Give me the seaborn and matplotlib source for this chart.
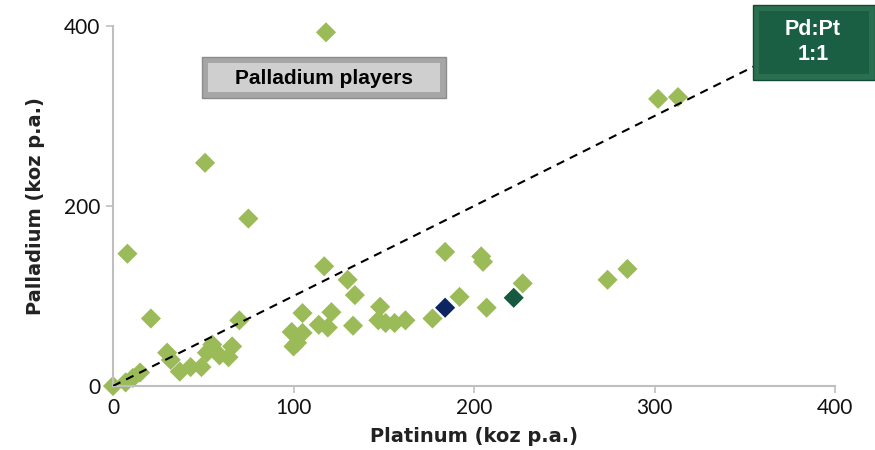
import matplotlib
matplotlib.use('Agg')
import matplotlib.pyplot as plt
from matplotlib.patches import Rectangle
import seaborn as sns
import pandas as pd

# Platinum vs palladium output (koz p.a.)
platinum = [0, 7, 11, 15, 8, 21, 30, 32, 37, 43, 49, 52, 55, 59, 64, 66, 70, 75, 51, 118,
            99, 100, 102, 105, 105, 114, 119, 121, 117, 130, 134, 133, 148, 147, 151, 156,
            162, 177, 184, 192, 204, 205, 207, 227, 274, 285, 302, 313, 184, 222]
palladium = [0, 4, 9, 15, 147, 75, 37, 29, 16, 21, 21, 37, 46, 34, 32, 44, 73, 186, 248, 393,
             60, 44, 48, 59, 81, 68, 65, 82, 133, 118, 101, 67, 88, 73, 70, 70,
             73, 75, 149, 99, 144, 138, 87, 114, 118, 130, 319, 321, 87, 98]
group = ['other'] * 48 + ['navy', 'green']
group_colors = {'other': '#9BBB59', 'navy': '#0D2463', 'green': '#17593F'}

ticks = [0, 100, 200, 300, 400]
yticks = [0, 200, 400]

df = pd.DataFrame({'platinum': platinum, 'palladium': palladium, 'group': group})

sns.set_style('white')
plt.rcParams['font.family'] = ['Lato', 'DejaVu Sans']

fig = plt.figure(figsize=(8.75, 4.5), dpi=100)
ax = fig.add_axes([113 / 875, 64 / 450, 722 / 875, 360 / 450])

# 1:1 line
ax.plot([0, 400], [0, 400], ls=(0, (4, 3)), color='black', lw=1.5, zorder=3)

sns.scatterplot(data=df, x='platinum', y='palladium', hue='group', palette=group_colors,
                marker='D', s=105, linewidth=0, legend=False, ax=ax, zorder=2, clip_on=False)

ax.set_xlim(0, 400)
ax.set_ylim(0, 400)
ax.set_xticks(ticks)
ax.set_yticks(yticks)
ax.tick_params(axis='both', direction='out', length=5, width=1.2, color='#BFBFBF',
               labelsize=15, labelcolor='#111111', pad=4, bottom=True, left=True)
for side in ['top', 'right']:
    ax.spines[side].set_visible(False)
for side in ['left', 'bottom']:
    ax.spines[side].set_color('#BFBFBF')
    ax.spines[side].set_linewidth(1.5)

ax.set_xlabel('Platinum (koz p.a.)', fontsize=14, fontweight='bold', family='DejaVu Sans',
              color='#222222', labelpad=6)
ax.set_ylabel('Palladium (koz p.a.)', fontsize=14, fontweight='bold', family='DejaVu Sans',
              color='#222222', labelpad=14)


def bevel_box(x0, y0, x1, y1, outer, inner, edge):
    # pixel coords (top-left origin) -> figure fractions
    fx, fy, fw, fh = x0 / 875, 1 - y1 / 450, (x1 - x0) / 875, (y1 - y0) / 450
    fig.patches.append(Rectangle((fx, fy), fw, fh, transform=fig.transFigure,
                                 facecolor=outer, edgecolor=edge, lw=1, zorder=5))
    ins = 6
    fig.patches.append(Rectangle(((x0 + ins) / 875, 1 - (y1 - ins) / 450),
                                 (x1 - x0 - 2 * ins) / 875, (y1 - y0 - 2 * ins) / 450,
                                 transform=fig.transFigure, facecolor=inner,
                                 edgecolor='none', zorder=6))


bevel_box(202, 57, 446, 98, '#A6A6A6', '#CFCFCF', '#8C8C8C')
fig.text(324 / 875, 1 - 78 / 450, 'Palladium players', ha='center', va='center',
         fontsize=15, fontweight='bold', family='Liberation Sans', color='black', zorder=7)

bevel_box(753, 5, 875, 80, '#2A7050', '#1A5E43', '#144A34')
fig.text(813 / 875, 1 - 42 / 450, 'Pd:Pt\n1:1', ha='center', va='center', linespacing=1.25,
         fontsize=15.5, fontweight='bold', family='Liberation Sans', color='white', zorder=7)

fig.savefig('out.png', dpi=100)
